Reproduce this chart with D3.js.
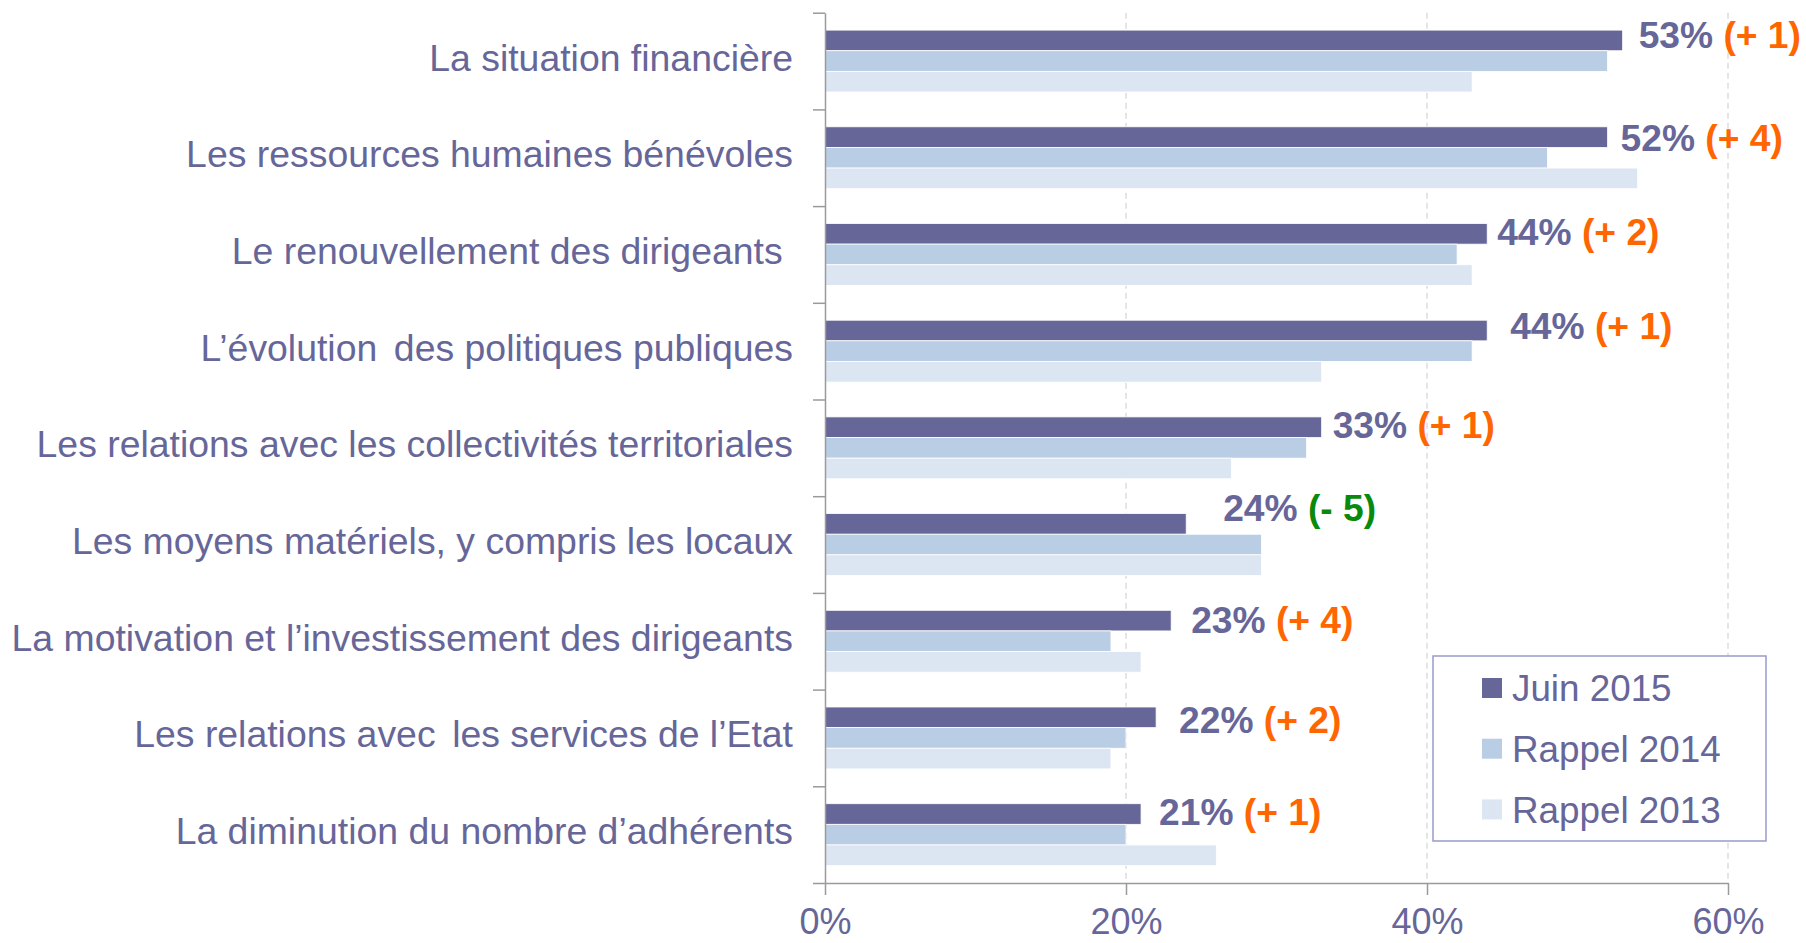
<html>

<head>
    <meta charset="utf-8">
    <script src="https://d3js.org/d3.v7.min.js"></script>
    <style>
        body {
            margin: 0;
            background: white;
        }

        text {
            font-family: "Liberation Sans", Arial, sans-serif;
        }

        .catLabel {
            fill: #666699;
            font-size: 37.4px;
            white-space: pre;
        }

        .axis path,
        .axis line {
            stroke: #9a9a9a;
            stroke-width: 1.5px;
        }

        .axis text {
            fill: #666699;
            font-size: 36px;
        }

        .grid {
            stroke: #d4d4d4;
            stroke-width: 1.2px;
            stroke-dasharray: 6, 4;
        }
    </style>
</head>

<body>
    <svg id="chart" width="1806" height="943"></svg>
    <script>
        //categories, top to bottom
        const categories = [
            "La situation financière",
            "Les ressources humaines bénévoles",
            "Le renouvellement des dirigeants ",
            "L’évolution \u2006des politiques publiques",
            "Les relations avec les collectivités territoriales",
            "Les moyens matériels, y compris les locaux",
            "La motivation et l’investissement des dirigeants",
            "Les relations avec \u2006les services de l’Etat",
            "La diminution du nombre d’adhérents"
        ];

        //series values (%)
        const juin2015 = [53, 52, 44, 44, 33, 24, 23, 22, 21];
        const rappel2014 = [52, 48, 42, 43, 32, 29, 19, 20, 20];
        const rappel2013 = [43, 54, 43, 33, 27, 29, 21, 19, 26];

        const seriesNames = ["Juin 2015", "Rappel 2014", "Rappel 2013"];
        const xTicks = [0, 0.2, 0.4, 0.6];

        //hand placed value labels in the original: extra gap after the bar, lift from bar centre
        const labelGap = [16, 13, 10, 23, 11, 37, 20, 23, 18];
        const labelLift = [-6, 0, -2, -5, -3, -16, -1, 2, -2];

        const colors = ["#666699", "#b9cde5", "#dce6f2"];

        const svg = d3.select("#chart");
        const plotTop = 12.7, plotBottom = 883, plotLeft = 825, plotRight = 1728;

        const x = d3.scaleLinear().domain([0, 0.6]).range([plotLeft, plotRight]);
        const y0 = d3.scaleBand().domain(categories).range([plotTop, plotBottom])
            .paddingInner(0.36).paddingOuter(0.18);
        const y1 = d3.scaleBand().domain(seriesNames).range([0, y0.bandwidth()]);
        //boundaries between categories, for the tick marks
        const yB = d3.scaleLinear().domain([0, categories.length]).range([plotTop, plotBottom]);

        const rows = categories.map((c, i) => ({
            cat: c,
            values: [juin2015[i], rappel2014[i], rappel2013[i]],
            i: i
        }));

        //gridlines
        svg.append("g").selectAll("line")
            .data(xTicks.slice(1))
            .join("line")
            .attr("class", "grid")
            .attr("x1", d => x(d)).attr("x2", d => x(d))
            .attr("y1", plotTop).attr("y2", plotBottom);

        //bars
        const groups = svg.append("g").selectAll("g")
            .data(rows)
            .join("g")
            .attr("transform", d => "translate(0," + y0(d.cat) + ")");

        groups.selectAll("rect")
            .data(d => d.values.map((v, k) => ({ v: v, k: k })))
            .join("rect")
            .attr("x", x(0))
            .attr("y", d => y1(seriesNames[d.k]))
            .attr("width", d => x(d.v / 100) - x(0))
            .attr("height", y1.bandwidth())
            .attr("fill", d => colors[d.k])
            .attr("stroke", "white")
            .attr("stroke-width", 0.8);

        //axes
        svg.append("g")
            .attr("class", "axis")
            .attr("transform", "translate(" + plotLeft + ",0)")
            .call(d3.axisLeft(yB).ticks(categories.length).tickSize(12).tickSizeOuter(0).tickFormat(""));

        svg.append("g")
            .attr("class", "axis")
            .attr("transform", "translate(0," + plotBottom + ")")
            .call(d3.axisBottom(x).tickValues(xTicks).tickSize(12).tickSizeOuter(0)
                .tickPadding(13).tickFormat(d3.format(".0%")));

        //category labels
        svg.append("g").selectAll("text")
            .data(categories)
            .join("text")
            .attr("class", "catLabel")
            .attr("x", 793)
            .attr("y", d => y0(d) + y0.bandwidth() / 2 + 9.5)
            .attr("text-anchor", "end")
            .text(d => d);

        //value labels with change vs 2014
        const vl = svg.append("g").selectAll("text")
            .data(rows)
            .join("text")
            .attr("x", d => x(d.values[0] / 100) + labelGap[d.i])
            .attr("y", d => y0(d.cat) + y1(seriesNames[0]) + y1.bandwidth() / 2 + labelLift[d.i])
            .attr("dy", "0.36em")
            .style("font-size", "37.2px")
            .style("font-weight", "bold");

        vl.append("tspan")
            .attr("fill", "#666699")
            .text(d => d.values[0] + "%");

        vl.append("tspan")
            .attr("fill", d => d.values[0] - d.values[1] < 0 ? "#0a8a0a" : "#ff6600")
            .text(d => {
                const diff = d.values[0] - d.values[1];
                return " (" + (diff < 0 ? "- " : "+ ") + Math.abs(diff) + ")";
            });

        //legend
        const legend = svg.append("g").attr("transform", "translate(1433,656)");
        legend.append("rect")
            .attr("width", 333).attr("height", 185)
            .attr("fill", "white")
            .attr("stroke", "#9a9acb")
            .attr("stroke-width", 1.5);

        const items = legend.selectAll("g.item")
            .data(seriesNames)
            .join("g")
            .attr("class", "item")
            .attr("transform", (d, i) => "translate(0," + (32 + i * 60.7) + ")");

        items.append("rect")
            .attr("x", 49).attr("y", -10)
            .attr("width", 20).attr("height", 20)
            .attr("fill", (d, i) => colors[i]);

        items.append("text")
            .attr("x", 79)
            .attr("dy", "0.36em")
            .style("font-size", "36.8px")
            .attr("fill", "#666699")
            .text(d => d);
    </script>
</body>

</html>
